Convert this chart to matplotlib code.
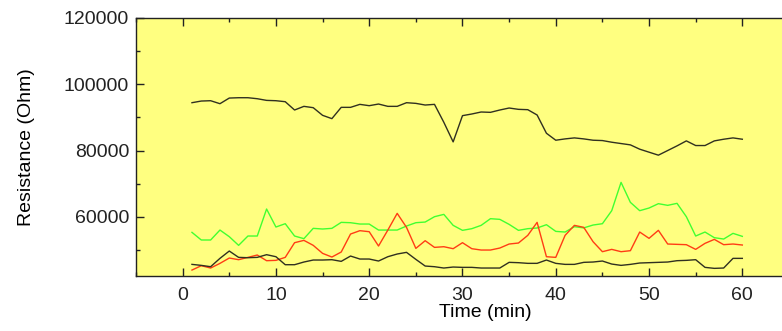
import matplotlib
matplotlib.use("Agg")
import matplotlib.pyplot as plt
import numpy as np
from matplotlib.ticker import MultipleLocator

plt.rcParams['font.family'] = ['Liberation Sans', 'DejaVu Sans']

# Time axis: one reading per minute
time_min = np.arange(1, 61)
x_ticks = [0, 10, 20, 30, 40, 50, 60]

# Sensor 1 (high resistance)
sensor1 = [94400, 94900, 95000, 94100, 95800, 95900, 95900, 95600, 95100, 95000,
           94700, 92200, 93300, 92900, 90600, 89600, 93000, 93000, 93900, 93500,
           94000, 93300, 93300, 94400, 94200, 93700, 93900, 88500, 82600, 90500,
           91000, 91600, 91500, 92200, 92800, 92400, 92300, 90700, 85200, 83100,
           83500, 83800, 83500, 83100, 83000, 82500, 82100, 81700, 80400, 79500,
           78600, 80000, 81400, 82900, 81500, 81500, 82900, 83400, 83800, 83400]

# Sensor 2 (green)
sensor2 = [55350, 53050, 53050, 56050, 54050, 51440, 54250, 54250, 62380, 56960,
           57960, 54250, 53450, 56560, 56360, 56560, 58360, 58260, 57860, 57860,
           56050, 56050, 56050, 57260, 58260, 58460, 60070, 60770, 57460, 55960,
           56460, 57460, 59470, 59270, 57760, 55960, 56460, 56660, 57660, 55650,
           55450, 57060, 56700, 57560, 57960, 61880, 70410, 64390, 61880, 62680,
           63990, 63490, 64090, 60070, 54250, 55450, 53750, 53340, 55050, 54150]

# Sensor 3 (red)
sensor3 = [44000, 45310, 44610, 46010, 47620, 47120, 47820, 48530, 46820, 46920,
           47820, 52240, 52940, 51440, 49030, 47920, 49430, 54850, 55860, 55550,
           51240, 56050, 61070, 56860, 50530, 52840, 50830, 51030, 50430, 52240,
           50430, 50030, 50030, 50630, 51840, 52140, 54450, 58360, 48020, 47820,
           54450, 57460, 56860, 52540, 49530, 50230, 49530, 49830, 55450, 53550,
           55960, 51840, 51740, 51640, 50230, 52040, 53240, 51640, 51840, 51540]

# Sensor 4 (low resistance)
sensor4 = [45710, 45410, 45010, 47520, 49730, 47820, 47720, 47820, 48630, 48020,
           45610, 45610, 46420, 47020, 47020, 47120, 46620, 48220, 47320, 47320,
           46720, 48020, 48830, 49330, 47220, 45210, 45010, 44610, 44910, 44810,
           44810, 44610, 44610, 44610, 46320, 46220, 46020, 46020, 47020, 46020,
           45710, 45710, 46320, 46420, 46720, 45810, 45410, 45710, 46120, 46220,
           46320, 46420, 46820, 46920, 47120, 44810, 44510, 44610, 47520, 47520]

fig = plt.figure(figsize=(7.82, 3.31), dpi=100)
# axes run past the right edge of the figure
ax = fig.add_axes([136 / 782, 1 - 275.7 / 331, (835.6 - 136) / 782, (275.7 - 17.7) / 331])
ax.set_facecolor('#ffff80')

ax.plot(time_min, sensor1, color='#303020', lw=1.0)
ax.plot(time_min, sensor2, color='#40ff30', lw=1.0)
ax.plot(time_min, sensor3, color='#ff3c14', lw=1.0)
ax.plot(time_min, sensor4, color='#303020', lw=1.0)

ax.set_xlim(-5, 70)
ax.set_ylim(42300, 120000)
ax.set_xticks(x_ticks)
ax.xaxis.set_minor_locator(MultipleLocator(5))
ax.yaxis.set_major_locator(MultipleLocator(20000))
ax.yaxis.set_minor_locator(MultipleLocator(10000))
ax.tick_params(which='both', direction='in', top=True, right=True,
               labelsize=14, width=1.0, colors='#222222')
ax.tick_params(which='major', length=6, pad=8)
ax.tick_params(which='minor', length=3)
ax.tick_params(axis='y', pad=5)
for s in ax.spines.values():
    s.set_linewidth(1.0)
    s.set_color('#222222')

ax.set_xlabel('Time (min)', fontsize=14, labelpad=0)
ax.set_ylabel('Resistance (Ohm)', fontsize=14, labelpad=21)

fig.savefig('out.png', dpi=100)
